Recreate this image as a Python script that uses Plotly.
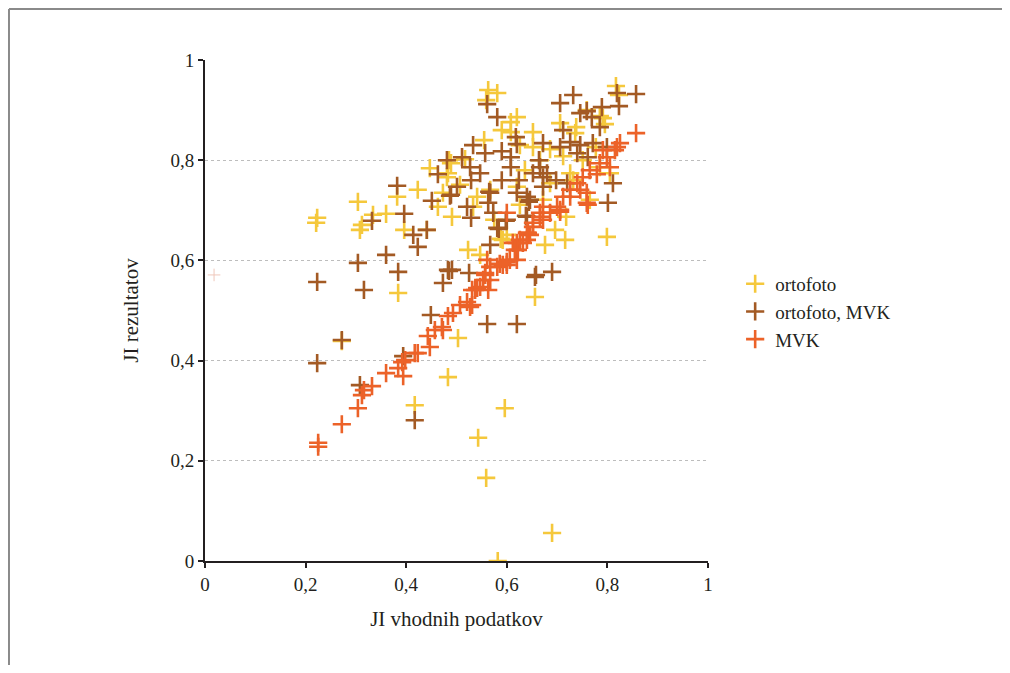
import plotly.graph_objects as go

# ---- data ----
ortofoto_x = [0.223, 0.221, 0.304, 0.312, 0.308, 0.334, 0.360, 0.382, 0.396, 0.423,
              0.447, 0.481, 0.489, 0.463, 0.491, 0.441, 0.384, 0.272, 0.503, 0.483,
              0.417, 0.543, 0.559, 0.596, 0.582, 0.690, 0.799, 0.656, 0.523, 0.547,
              0.592, 0.563, 0.581, 0.620, 0.608, 0.590, 0.652, 0.555, 0.608, 0.652,
              0.485, 0.517, 0.473, 0.541, 0.533, 0.575, 0.600, 0.588, 0.620, 0.483,
              0.817, 0.759, 0.791, 0.706, 0.736, 0.686, 0.712, 0.726, 0.785, 0.805,
              0.686, 0.672, 0.718, 0.696, 0.823, 0.751, 0.732, 0.738, 0.777, 0.626,
              0.795, 0.785, 0.559, 0.636, 0.666, 0.567, 0.507, 0.626, 0.676, 0.716,
              0.765]
ortofoto_y = [0.685, 0.675, 0.717, 0.671, 0.661, 0.691, 0.693, 0.727, 0.661, 0.741,
              0.784, 0.766, 0.794, 0.707, 0.687, 0.661, 0.535, 0.439, 0.445, 0.367,
              0.311, 0.246, 0.166, 0.305, 0.000, 0.056, 0.647, 0.527, 0.621, 0.611,
              0.641, 0.940, 0.934, 0.886, 0.876, 0.860, 0.856, 0.840, 0.856, 0.826,
              0.800, 0.802, 0.735, 0.727, 0.707, 0.681, 0.651, 0.643, 0.747, 0.774,
              0.948, 0.900, 0.884, 0.874, 0.854, 0.822, 0.808, 0.774, 0.786, 0.774,
              0.754, 0.721, 0.687, 0.661, 0.930, 0.800, 0.760, 0.866, 0.826, 0.830,
              0.872, 0.888, 0.920, 0.780, 0.800, 0.741, 0.751, 0.711, 0.631, 0.641,
              0.721]

ortomvk_x = [0.223, 0.223, 0.272, 0.304, 0.316, 0.308, 0.360, 0.384, 0.382, 0.396,
             0.332, 0.414, 0.423, 0.441, 0.451, 0.463, 0.481, 0.489, 0.501, 0.473,
             0.483, 0.491, 0.394, 0.449, 0.417, 0.561, 0.620, 0.656, 0.690, 0.567,
             0.561, 0.581, 0.618, 0.620, 0.533, 0.557, 0.590, 0.608, 0.511, 0.527,
             0.547, 0.529, 0.487, 0.565, 0.590, 0.608, 0.664, 0.666, 0.652, 0.672,
             0.624, 0.620, 0.640, 0.644, 0.521, 0.529, 0.563, 0.573, 0.600, 0.584,
             0.640, 0.485, 0.525, 0.658, 0.672, 0.732, 0.706, 0.819, 0.857, 0.823,
             0.789, 0.746, 0.759, 0.769, 0.785, 0.712, 0.726, 0.706, 0.746, 0.771,
             0.740, 0.761, 0.799, 0.680, 0.698, 0.720, 0.672, 0.811, 0.801, 0.638,
             0.646, 0.581, 0.598, 0.567]
ortomvk_y = [0.557, 0.395, 0.441, 0.595, 0.541, 0.351, 0.611, 0.577, 0.749, 0.693,
             0.679, 0.651, 0.627, 0.661, 0.719, 0.772, 0.800, 0.731, 0.747, 0.555,
             0.581, 0.581, 0.409, 0.491, 0.281, 0.473, 0.473, 0.567, 0.577, 0.631,
             0.912, 0.886, 0.846, 0.832, 0.830, 0.814, 0.818, 0.806, 0.806, 0.786,
             0.774, 0.760, 0.729, 0.737, 0.760, 0.786, 0.800, 0.786, 0.774, 0.766,
             0.760, 0.735, 0.727, 0.717, 0.707, 0.685, 0.715, 0.695, 0.681, 0.663,
             0.687, 0.579, 0.575, 0.571, 0.834, 0.930, 0.914, 0.934, 0.932, 0.908,
             0.906, 0.894, 0.898, 0.886, 0.866, 0.860, 0.836, 0.826, 0.830, 0.834,
             0.814, 0.806, 0.826, 0.774, 0.760, 0.754, 0.747, 0.754, 0.715, 0.689,
             0.721, 0.665, 0.679, 0.735]

mvk_x = [0.225, 0.225, 0.272, 0.304, 0.312, 0.316, 0.332, 0.360, 0.384, 0.394,
         0.392, 0.398, 0.417, 0.423, 0.447, 0.443, 0.457, 0.473, 0.471, 0.483,
         0.493, 0.507, 0.521, 0.527, 0.531, 0.541, 0.563, 0.567, 0.557, 0.581,
         0.600, 0.620, 0.632, 0.640, 0.646, 0.531, 0.537, 0.547, 0.553, 0.561,
         0.592, 0.606, 0.622, 0.612, 0.626, 0.642, 0.652, 0.666, 0.686, 0.706,
         0.726, 0.746, 0.759, 0.600, 0.672, 0.700, 0.706, 0.712, 0.759, 0.761,
         0.726, 0.740, 0.751, 0.765, 0.785, 0.805, 0.799, 0.819, 0.815, 0.857,
         0.666, 0.652, 0.640, 0.620, 0.616, 0.600, 0.586, 0.567, 0.557, 0.672,
         0.779, 0.791, 0.825]
mvk_y = [0.236, 0.228, 0.273, 0.305, 0.331, 0.341, 0.349, 0.375, 0.385, 0.369,
         0.397, 0.401, 0.415, 0.415, 0.427, 0.449, 0.461, 0.461, 0.467, 0.489,
         0.495, 0.511, 0.517, 0.507, 0.541, 0.545, 0.541, 0.561, 0.571, 0.587,
         0.591, 0.601, 0.635, 0.641, 0.651, 0.511, 0.541, 0.547, 0.561, 0.601,
         0.591, 0.601, 0.621, 0.635, 0.641, 0.655, 0.667, 0.687, 0.695, 0.701,
         0.727, 0.741, 0.715, 0.695, 0.681, 0.707, 0.697, 0.727, 0.735, 0.711,
         0.741, 0.754, 0.766, 0.780, 0.794, 0.786, 0.806, 0.826, 0.820, 0.854,
         0.695, 0.675, 0.655, 0.635, 0.621, 0.597, 0.593, 0.587, 0.575, 0.707,
         0.772, 0.820, 0.834]

faint_x = [0.018]
faint_y = [0.571]

series_names = ["ortofoto", "ortofoto, MVK", "MVK"]
tick_vals = [0, 0.2, 0.4, 0.6, 0.8, 1]
tick_text = ["0", "0,2", "0,4", "0,6", "0,8", "1"]

colors = ["#F5C83C", "#A35A24", "#EC6228"]
FONT = "'Liberation Serif', 'DejaVu Serif', serif"
TXT = "#231f20"

fig = go.Figure()
fig.add_trace(go.Scatter(x=faint_x, y=faint_y, mode="markers", showlegend=False,
                         hoverinfo="skip",
                         marker=dict(symbol="cross-thin", size=9,
                                     line=dict(width=1, color="#EFC7BA"))))
for xs, ys, name, col in [(ortofoto_x, ortofoto_y, series_names[0], colors[0]),
                          (ortomvk_x, ortomvk_y, series_names[1], colors[1]),
                          (mvk_x, mvk_y, series_names[2], colors[2])]:
    fig.add_trace(go.Scatter(x=xs, y=ys, mode="markers", name=name,
                             marker=dict(symbol="cross-thin", size=13, color=col,
                                         line=dict(width=2.6, color=col))))

fig.update_layout(
    width=994, height=657,
    margin=dict(l=197, r=294, t=52, b=104),
    paper_bgcolor="white", plot_bgcolor="white",
    font=dict(family=FONT, size=19, color=TXT),
    legend=dict(x=1.054, y=0.591, xanchor="left", yanchor="top",
                font=dict(family=FONT, size=19, color=TXT),
                itemwidth=30, tracegroupgap=0, bgcolor="rgba(0,0,0,0)"),
    shapes=[
        dict(type="line", xref="paper", yref="paper", x0=-0.3897, x1=1.5845,
             y0=1.1018, y1=1.1018, line=dict(color="#8a8a8a", width=2)),
        dict(type="line", xref="paper", yref="paper", x0=-0.3897, x1=-0.3897,
             y0=1.1018, y1=-0.2076, line=dict(color="#8a8a8a", width=2)),
    ],
)
fig.update_xaxes(range=[0, 1], tickvals=tick_vals, ticktext=tick_text,
                 showgrid=False, zeroline=False, showline=True, linecolor="#231f20",
                 linewidth=2, ticks="outside", ticklen=5, tickwidth=1.5,
                 tickcolor="#231f20", tickfont=dict(size=19),
                 title=dict(text="JI vhodnih podatkov", standoff=18,
                            font=dict(family=FONT, size=21, color=TXT)))
fig.update_yaxes(range=[0, 1], tickvals=tick_vals, ticktext=tick_text,
                 showgrid=True, gridcolor="#bdbdbd", griddash="dot", gridwidth=1,
                 zeroline=False, showline=True, linecolor="#231f20",
                 linewidth=2, ticks="outside", ticklen=5, tickwidth=1.5,
                 tickcolor="#231f20", tickfont=dict(size=19),
                 title=dict(text="JI rezultatov", standoff=26,
                            font=dict(family=FONT, size=21, color=TXT)))

fig.write_html("out.html")
